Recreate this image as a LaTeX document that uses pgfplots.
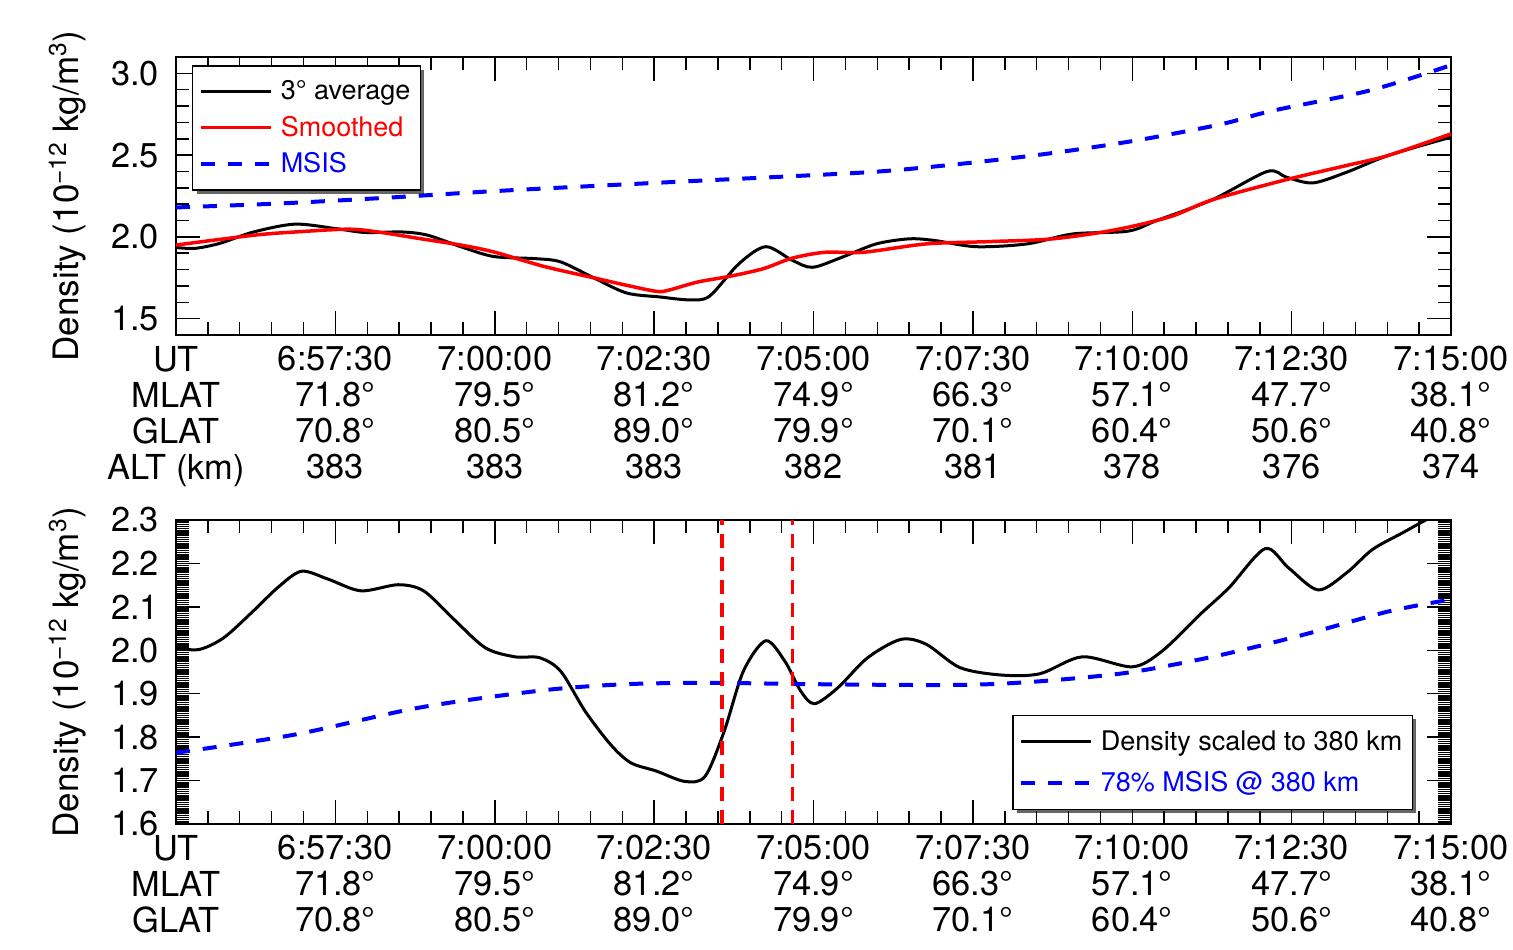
\documentclass[border=0pt]{standalone}
\usepackage{fontspec}
\setmainfont{TeX Gyre Heros}
\usepackage{pgfplots}
\pgfplotsset{compat=1.18}
\usetikzlibrary{shadows}
\makeatletter
\tikzset{no preactions/.code={\let\tikz@preactions\pgfutil@empty}}
\makeatother

\pgfplotsset{
  myaxis/.style={
    scale only axis, width=637.5pt,
    xmin=0, xmax=1200,
    xtick={0,150,...,1200},
    minor xtick={0,30,...,1200},
    tick align=inside,
    major tick length=12pt, minor tick length=6.5pt,
    tick style={line width=0.75pt, black},
    axis line style={line width=0.75pt},
    xticklabel style={align=center, yshift=-2pt, font=\fontsize{17.2}{18}\selectfont},
    yticklabel style={xshift=-5pt, font=\fontsize{17.2}{18}\selectfont, /pgf/number format/.cd, fixed, fixed zerofill, precision=1, assume math mode=true},
    ylabel style={font=\fontsize{17.5}{20}\selectfont, at={(axis description cs:-0.085,0.5)}, anchor=center},
    legend cell align=left,
    legend image code/.code={\draw[no preactions, #1] (0pt,0pt) -- (35pt,0pt); \path (37pt,0pt);},
  }
}

\begin{document}
\begin{tikzpicture}
\useasboundingbox (-88pt,-62.5pt) rectangle (668.5pt,412pt);

\begin{axis}[myaxis, at={(0pt,244.5pt)}, anchor=south west, height=139pt,
  ymin=1.4, ymax=3.1, ytick={1.5,2.0,2.5,3.0},
  minor ytick={1.4,1.5,1.6,1.7,1.8,1.9,2.0,2.1,2.2,2.3,2.4,2.5,2.6,2.7,2.8,2.9,3.0,3.1},
  xticklabels={{UT\\MLAT\\GLAT\\ALT (km)},{6:57:30\\71.8°\\70.8°\\383},{7:00:00\\79.5°\\80.5°\\383},{7:02:30\\81.2°\\89.0°\\383},{7:05:00\\74.9°\\79.9°\\382},{7:07:30\\66.3°\\70.1°\\381},{7:10:00\\57.1°\\60.4°\\378},{7:12:30\\47.7°\\50.6°\\376},{7:15:00\\38.1°\\40.8°\\374}},
  ylabel={Density (10\textsuperscript{−12} kg/m\textsuperscript{3})},
  legend style={at={(0,1)}, anchor=north west, xshift=8pt, yshift=-4pt,
    draw=black, line width=0.75pt, fill=white,
    drop shadow={shadow xshift=2pt, shadow yshift=-2pt, opacity=0.6, fill=black},
    font=\fontsize{13.5}{15}\selectfont, row sep=2.5pt, inner xsep=3pt, inner ysep=5.5pt},
]
\addplot[black, line width=1.5pt, smooth] coordinates {
(0,1.935) (18,1.93) (41,1.96) (73,2.03) (112,2.078) (151,2.05) (178,2.027) (213,2.03) (237,2.01) (268,1.94) (299,1.88) (338,1.867) (362,1.847) (393,1.75) (424,1.657) (455,1.633) (483,1.615) (502,1.637) (530,1.837) (555,1.94) (580,1.857) (599,1.814) (627,1.876) (659,1.957) (690,1.988) (714,1.978) (753,1.94) (801,1.957) (844,2.018) (896,2.035) (923,2.1) (975,2.226) (1027,2.4) (1045,2.365) (1070,2.33) (1102,2.396) (1141,2.498) (1200,2.61)};
\addlegendentry{3° average}
\addplot[red, line width=1.75pt, smooth] coordinates {
(0,1.95) (73,2.01) (112,2.03) (162,2.047) (190,2.03) (229,1.99) (268,1.95) (299,1.908) (346,1.82) (393,1.75) (424,1.704) (452,1.667) (463,1.673) (491,1.724) (522,1.76) (553,1.806) (580,1.87) (611,1.906) (647,1.906) (706,1.957) (765,1.971) (825,1.988) (884,2.043) (936,2.124) (975,2.226) (1042,2.345) (1102,2.437) (1141,2.498) (1200,2.63)};
\addlegendentry{\textcolor{red}{Smoothed}}
\addplot[blue, line width=2pt, dash pattern=on 7pt off 6.5pt, smooth] coordinates {
(0,2.18) (100,2.205) (200,2.24) (300,2.28) (450,2.33) (595,2.376) (666,2.402) (745,2.451) (824,2.512) (904,2.59) (983,2.688) (1031,2.77) (1124,2.896) (1200,3.05)};
\addlegendentry{\textcolor{blue}{MSIS}}
\end{axis}

\begin{axis}[myaxis, at={(0pt,0pt)}, anchor=south west, height=152pt,
  ymin=1.6, ymax=2.3, ytick={1.6,1.7,1.8,1.9,2.0,2.1,2.2,2.3},
  minor ytick={1.6,1.605,...,2.3},
  xticklabels={{UT\\MLAT\\GLAT},{6:57:30\\71.8°\\70.8°},{7:00:00\\79.5°\\80.5°},{7:02:30\\81.2°\\89.0°},{7:05:00\\74.9°\\79.9°},{7:07:30\\66.3°\\70.1°},{7:10:00\\57.1°\\60.4°},{7:12:30\\47.7°\\50.6°},{7:15:00\\38.1°\\40.8°}},
  ylabel={Density (10\textsuperscript{−12} kg/m\textsuperscript{3})},
  legend style={at={(1,0)}, anchor=south east, xshift=-19pt, yshift=7pt,
    draw=black, line width=0.75pt, fill=white,
    drop shadow={shadow xshift=2pt, shadow yshift=-2pt, opacity=0.6, fill=black},
    font=\fontsize{13.5}{15}\selectfont, row sep=5pt, inner xsep=3pt, inner ysep=5.5pt},
]
\addplot[black, line width=1.5pt, smooth] coordinates {
(0,2.005) (22,2.002) (45,2.029) (73,2.091) (96,2.145) (118,2.182) (143,2.164) (174,2.137) (209,2.151) (233,2.137) (260,2.075) (291,2.006) (319,1.985) (342,1.983) (362,1.952) (385,1.86) (409,1.783) (428,1.741) (452,1.722) (479,1.698) (498,1.71) (516,1.814) (534,1.952) (555,2.022) (573,1.975) (588,1.906) (601,1.877) (623,1.914) (651,1.983) (682,2.025) (706,2.014) (738,1.96) (777,1.943) (813,1.946) (853,1.985) (900,1.962) (928,1.998) (964,2.083) (991,2.144) (1025,2.234) (1047,2.19) (1075,2.139) (1102,2.179) (1126,2.232) (1154,2.27) (1177,2.301) (1200,2.33)};
\addlegendentry{Density scaled to 380 km}
\addplot[blue, line width=2pt, dash pattern=on 7pt off 6.5pt, smooth] coordinates {
(0,1.764) (112,1.806) (229,1.868) (346,1.908) (424,1.922) (502,1.925) (600,1.922) (706,1.92) (766,1.922) (825,1.931) (900,1.95) (983,1.989) (1063,2.037) (1142,2.09) (1200,2.117)};
\addlegendentry{\textcolor{blue}{78\% MSIS @ 380 km}}
\addplot[red, line width=1.75pt, dash pattern=on 7pt off 4.5pt, forget plot] coordinates {(514,1.6) (514,2.3)};
\addplot[red, line width=1.75pt, dash pattern=on 7pt off 4.5pt, forget plot] coordinates {(580,1.6) (580,2.3)};
\end{axis}
\end{tikzpicture}
\end{document}
